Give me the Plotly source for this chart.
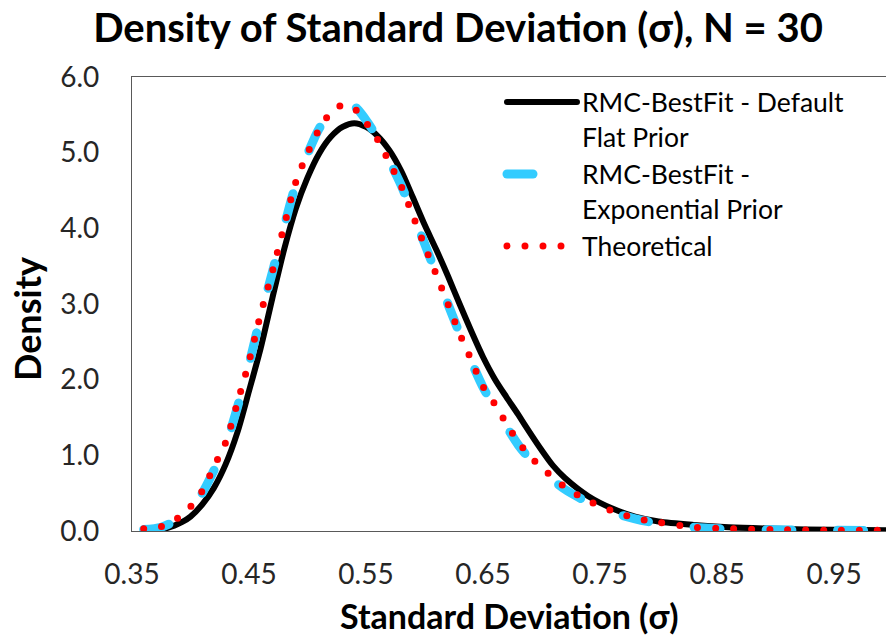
import plotly.graph_objects as go

# ---- data ----
x_default = [0.36, 0.38, 0.393, 0.40, 0.41, 0.42, 0.43, 0.44, 0.45, 0.46, 0.47, 0.48, 0.49,
             0.50, 0.51, 0.52, 0.53, 0.54, 0.55, 0.56, 0.57, 0.58, 0.59, 0.60, 0.61, 0.62,
             0.63, 0.64, 0.65, 0.66, 0.67, 0.68, 0.69, 0.70, 0.71, 0.72, 0.74, 0.76, 0.78,
             0.80, 0.83, 0.86, 0.90, 0.95, 1.00]
y_default = [0.01, 0.04, 0.12, 0.19, 0.35, 0.57, 0.88, 1.30, 1.85, 2.42, 3.08, 3.72, 4.26,
             4.67, 4.99, 5.21, 5.34, 5.39, 5.34, 5.22, 5.03, 4.76, 4.41, 4.05, 3.72, 3.37,
             3.00, 2.64, 2.30, 2.01, 1.77, 1.54, 1.30, 1.07, 0.86, 0.70, 0.46, 0.30, 0.19,
             0.125, 0.08, 0.05, 0.03, 0.015, 0.01]

x_expo = [0.36, 0.375, 0.39, 0.40, 0.41, 0.42, 0.43, 0.44, 0.45, 0.46, 0.47, 0.48, 0.49,
          0.50, 0.51, 0.52, 0.53, 0.54, 0.55, 0.56, 0.57, 0.58, 0.59, 0.60, 0.61, 0.62,
          0.63, 0.64, 0.65, 0.66, 0.67, 0.68, 0.69, 0.70, 0.72, 0.74, 0.76, 0.78, 0.80,
          0.83, 0.86, 0.90, 0.95, 1.00]
y_expo = [0.02, 0.05, 0.16, 0.30, 0.50, 0.80, 1.13, 1.63, 2.20, 2.84, 3.42, 4.02, 4.58,
          4.98, 5.32, 5.52, 5.62, 5.61, 5.43, 5.19, 4.89, 4.57, 4.19, 3.80, 3.40, 3.00,
          2.61, 2.24, 1.90, 1.63, 1.38, 1.14, 0.95, 0.80, 0.55, 0.38, 0.25, 0.16, 0.10,
          0.05, 0.025, 0.015, 0.01, 0.005]

x_theory = [0.36, 0.375, 0.389, 0.40, 0.41, 0.42, 0.43, 0.44, 0.45, 0.46, 0.47, 0.48, 0.49,
            0.50, 0.51, 0.52, 0.53, 0.54, 0.55, 0.56, 0.57, 0.58, 0.59, 0.60, 0.61, 0.62,
            0.63, 0.64, 0.65, 0.66, 0.67, 0.68, 0.69, 0.70, 0.72, 0.74, 0.76, 0.78, 0.80,
            0.83, 0.86, 0.90, 0.95, 1.00]
y_theory = [0.03, 0.06, 0.17, 0.32, 0.53, 0.85, 1.17, 1.69, 2.24, 2.87, 3.43, 4.03, 4.61,
            4.99, 5.31, 5.53, 5.63, 5.58, 5.40, 5.17, 4.87, 4.56, 4.17, 3.77, 3.39, 3.00,
            2.61, 2.26, 1.91, 1.68, 1.42, 1.18, 0.99, 0.84, 0.58, 0.40, 0.27, 0.17, 0.115,
            0.05, 0.03, 0.02, 0.01, 0.01]

x_ticks = [0.35, 0.45, 0.55, 0.65, 0.75, 0.85, 0.95]
y_ticks = [0.0, 1.0, 2.0, 3.0, 4.0, 5.0, 6.0]

names = ["RMC-BestFit - Default<br>Flat Prior",
         "RMC-BestFit -<br>Exponential Prior",
         "Theoretical"]

title_text = "Density of Standard Deviation (σ), N = 30"
x_title = "Standard Deviation (σ)"
y_title = "Density"

FONT = "Lato"

fig = go.Figure()
fig.add_trace(go.Scatter(x=x_default, y=y_default, mode="lines", name=names[0],
                         legendgroup="a",
                         line=dict(color="#000000", width=6, shape="spline", smoothing=0.8)))
fig.add_trace(go.Scatter(x=x_expo, y=y_expo, mode="lines", name=names[1],
                         legendgroup="b",
                         line=dict(color="#33CCFF", width=9, shape="spline", smoothing=0.8,
                                   dash="26px,46px")))
fig.add_trace(go.Scatter(x=x_theory, y=y_theory, mode="lines", name=names[2],
                         legendgroup="c",
                         line=dict(color="#FF0000", width=7, shape="spline", smoothing=0.8,
                                   dash="0px,18px")))

fig.update_layout(
    width=886, height=644,
    margin=dict(l=132, r=0, t=77, b=113),
    paper_bgcolor="white", plot_bgcolor="white",
    font=dict(family=FONT, color="#262626"),
    title=dict(text=f"<b>{title_text}</b>",
               x=458 / 886, xref="container", xanchor="center",
               y=1 - 28 / 644, yref="container", yanchor="middle",
               font=dict(family=FONT, size=40, color="#000000")),
    showlegend=True,
    legend=dict(x=0.4907, xanchor="left", y=0.997, yanchor="top",
                font=dict(family=FONT, size=26.5, color="#000000"),
                bgcolor="rgba(0,0,0,0)", valign="top", itemwidth=70,
                tracegroupgap=0),
    xaxis=dict(range=[0.35, 0.9944], tickvals=x_ticks,
               ticktext=[f"{v:.2f}" for v in x_ticks],
               showgrid=False, zeroline=False, showline=True, mirror=True,
               linecolor="#595959", linewidth=1.3, ticks="",
               tickfont=dict(family=FONT, size=28, color="#262626"),
               ticklabelstandoff=18),
    yaxis=dict(range=[0, 6], tickvals=y_ticks,
               ticktext=[f"{v:.1f}" for v in y_ticks],
               showgrid=False, zeroline=False, showline=True, mirror=False,
               linecolor="#595959", linewidth=1.3, ticks="",
               tickfont=dict(family=FONT, size=28, color="#262626"),
               ticklabelstandoff=26),
    annotations=[
        dict(text=f"<b>{x_title}</b>", xref="paper", yref="paper",
             x=0.5, y=(531 - 615) / 454, xanchor="center", yanchor="middle",
             showarrow=False, font=dict(family=FONT, size=34, color="#000000")),
        dict(text=f"<b>{y_title}</b>", xref="paper", yref="paper",
             x=(27 - 132) / 754, y=(531 - 319) / 454, xanchor="center", yanchor="middle",
             textangle=-90, showarrow=False,
             font=dict(family=FONT, size=36, color="#000000")),
    ],
)

post = """
var gd = document.getElementById('{plot_id}');
function rc(){
  gd.querySelectorAll('.scatterlayer .js-line, .legendlines path').forEach(function(p){
    p.style.strokeLinecap = 'round';
  });
}
rc();
gd.on('plotly_afterplot', rc);
"""

fig.write_html("out.html", post_script=post)
